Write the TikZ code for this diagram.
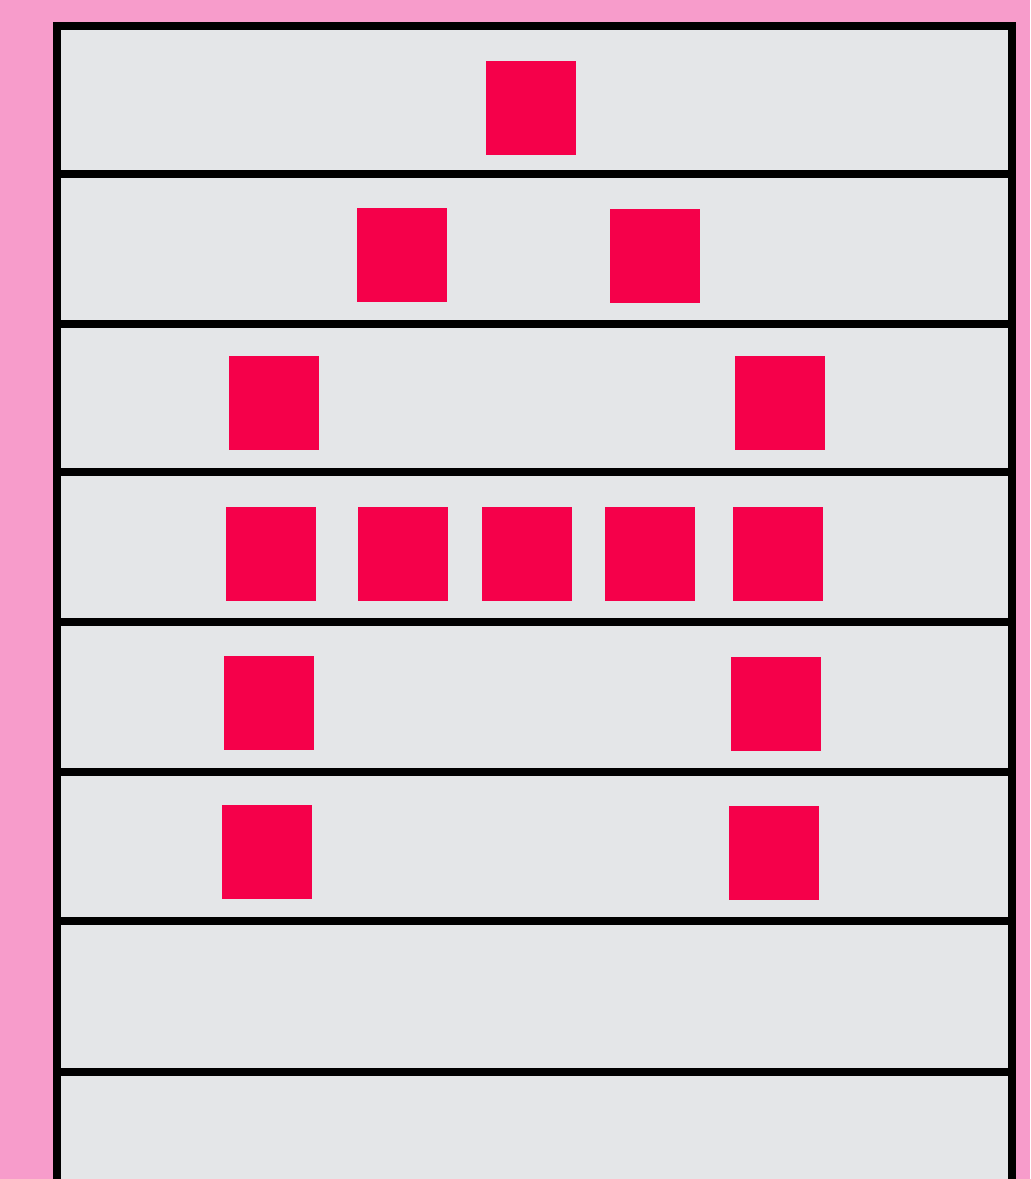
\documentclass[tikz,border=0pt]{standalone}
\usepackage{tikz}

\definecolor{bgpink}{HTML}{F79CCB}
\definecolor{panelgrey}{HTML}{E4E6E8}
\definecolor{dotred}{HTML}{F5004A}

\tikzset{
  pixsq/.style={rectangle, fill=dotred, inner sep=0pt, minimum width=.9cm, minimum height=.93cm},
  rowline/.style={line width=2.4pt, black}
}

\begin{document}
\begin{tikzpicture}[x=0.01cm, y=-0.01cm]
\useasboundingbox (0,0) rectangle (1030,1179);
\clip (0,0) rectangle (1030,1179);
\fill[bgpink] (0,0) rectangle (1030,1179);
\fill[panelgrey] (57,26) rectangle (1012,1200);

% letter A, row by row
\node[pixsq] (a13) at (531,108) {};

\node[pixsq] (a22) at (402,255) {};
\node[pixsq] (a24) at (655,256) {};

\node[pixsq] (a31) at (274,403) {};
\node[pixsq] (a35) at (780,403) {};

\node[pixsq] (a41) at (271,554) {};
\node[pixsq] (a42) at (403,554) {};
\node[pixsq] (a43) at (527,554) {};
\node[pixsq] (a44) at (650,554) {};
\node[pixsq] (a45) at (778,554) {};

\node[pixsq] (a51) at (269,703) {};
\node[pixsq] (a55) at (776,704) {};

\node[pixsq] (a61) at (267,852) {};
\node[pixsq] (a65) at (774,853) {};

% frame and row dividers
\draw[rowline] (57,1200) -- (57,26) -- (1012,26) -- (1012,1200);
\foreach \y in {174,324,472,622,772,921,1072}
  \draw[rowline] (57,\y) -- (1012,\y);
\end{tikzpicture}
\end{document}
